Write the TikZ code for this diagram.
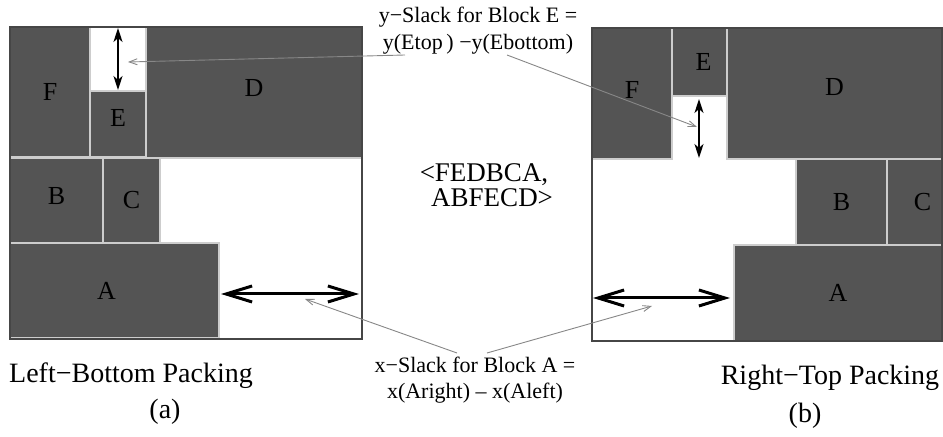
\documentclass[tikz,border=0pt]{standalone}
\usepackage{fontspec}
\setmainfont{Liberation Serif}
\usepackage{xcolor}
\usetikzlibrary{arrows.meta}

\definecolor{blockgray}{RGB}{84,84,84}
\definecolor{seamgray}{RGB}{205,205,205}
\definecolor{framegray}{RGB}{70,70,70}
\definecolor{leadgray}{RGB}{135,135,135}

\tikzset{
    blk/.style={fill=blockgray, draw=seamgray, line width=0.6pt},
    pkframe/.style={draw=framegray, line width=0.8pt},
    blklabel/.style={font=\fontsize{13}{15}\selectfont},
    hslack/.style={black, line width=1.5pt, {Straight Barb[length=13pt,width=8pt]}-{Straight Barb[length=13pt,width=8pt]}},
    vslack/.style={black, line width=1pt, {Stealth[length=7pt,width=4.5pt,inset=2pt]}-{Stealth[length=7pt,width=4.5pt,inset=2pt]}},
    leader/.style={leadgray, line width=0.45pt, -{Straight Barb[length=4pt,width=3pt]}},
    caption/.style={font=\fontsize{14}{17}\selectfont}
}

\begin{document}
\begin{tikzpicture}[x=0.5pt,y=-0.5pt]
        \useasboundingbox (0,0) rectangle (943,437);

        % Left-bottom packing
        \draw[blk] (10,27) rectangle (90,157) node[midway, blklabel] (lF) {F};
        \draw[blk] (90,91) rectangle (146,157) node[midway, blklabel, yshift=3] (lE) {E};
        \draw[blk] (146,27) rectangle (362,158) node[midway, blklabel, yshift=2] (lD) {D};
        \draw[blk] (10,158) rectangle (103,243) node[midway, blklabel, yshift=2] (lB) {B};
        \draw[blk] (103,158) rectangle (160,243) node[midway, blklabel] (lC) {C};
        \draw[blk] (10,243) rectangle (219,338) node[midway, blklabel, xshift=-4] (lA) {A};
        \draw[pkframe] (10,27) rectangle (362,339);

        % Right-top packing
        \draw[blk] (592,28) rectangle (672,159) node[midway, blklabel, yshift=2] (rF) {F};
        \draw[blk] (672,28) rectangle (727,96) node[midway, blklabel, xshift=2] (rE) {E};
        \draw[blk] (727,28) rectangle (942,159) node[midway, blklabel, yshift=3] (rD) {D};
        \draw[blk] (796,159) rectangle (887,245) node[midway, blklabel] (rB) {B};
        \draw[blk] (887,159) rectangle (942,245) node[midway, blklabel, xshift=4] (rC) {C};
        \draw[blk] (734,245) rectangle (942,341) node[midway, blklabel] (rA) {A};
        \draw[pkframe] (592,28) rectangle (942,341);

        % Slack arrows
        \draw[vslack] (118,28) -- (118,90);
        \draw[vslack] (699,99) -- (699,158);
        \draw[hslack] (221,294) -- (359,294);
        \draw[hslack] (593,298) -- (730,298);

        \coordinate (yslackL) at (128,62);
        \coordinate (yslackR) at (697,127);
        \coordinate (xslackL) at (305,299);
        \coordinate (xslackR) at (652,306);

        % Texts
        \node[align=center, font=\fontsize{11}{13.5}\selectfont] (ytext) at (478,31)
            {y−Slack for Block E =\\y(Etop\,) −y(Ebottom)};
        \node[align=center, font=\fontsize{11}{13}\selectfont] (xtext) at (475,380)
            {x−Slack for Block A =\\x(Aright) – x(Aleft)};
        \node[align=center, font=\fontsize{13.5}{12.5}\selectfont] (seqpair) at (484,185)
            {<FEDBCA,\\\hspace*{0.6em}ABFECD>};

        \coordinate (ytextL) at (405,55);
        \coordinate (ytextR) at (507,55);
        \coordinate (xtextL) at (457,353);
        \coordinate (xtextR) at (487,353);

        % Leaders
        \draw[leader] (ytextL) -- (yslackL);
        \draw[leader] (ytextR) -- (yslackR);
        \draw[leader] (xtextL) -- (xslackL);
        \draw[leader] (xtextR) -- (xslackR);

        % Captions
        \node[caption] (capL) at (131,376) {Left−Bottom Packing};
        \node[caption] (subA) at (165,412) {(a)};
        \node[caption] (capR) at (830,378) {Right−Top Packing};
        \node[caption] (subB) at (805,416) {(b)};

\end{tikzpicture}
\end{document}
